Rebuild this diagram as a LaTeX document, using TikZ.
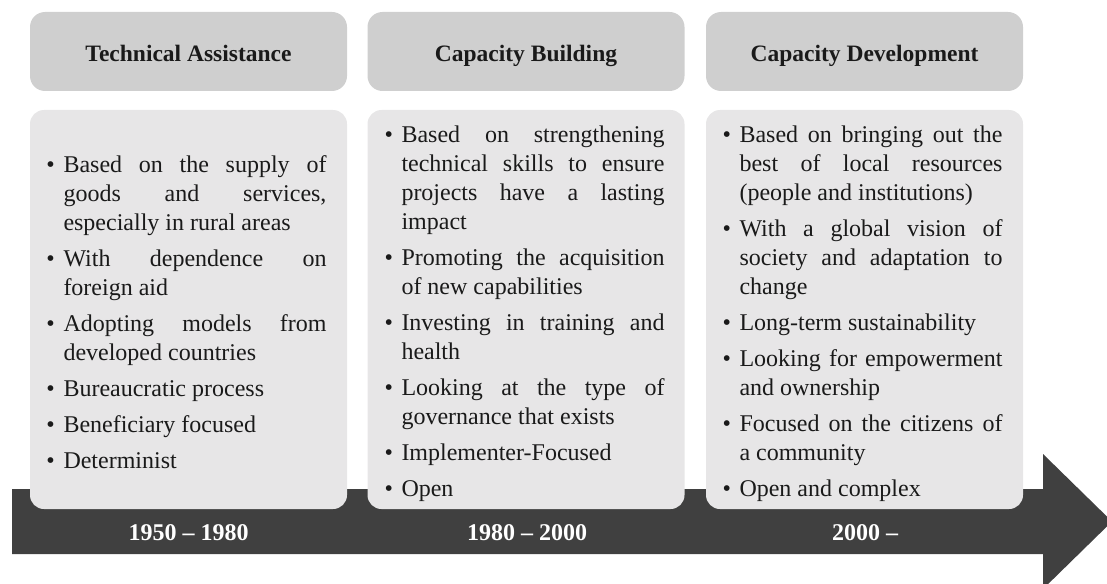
\documentclass[tikz,border=0pt]{standalone}
\usepackage{fontspec}
\setmainfont{Liberation Serif}
\definecolor{hdr}{HTML}{CFCFCF}
\definecolor{bdy}{HTML}{E7E6E7}
\definecolor{bandc}{HTML}{404040}
\definecolor{ink}{HTML}{1A1A1A}
\newenvironment{blist}{\begin{list}{\llap{\textbullet\hspace{8.6pt}}}{\setlength{\leftmargin}{13pt}\setlength{\labelwidth}{0pt}\setlength{\labelsep}{0pt}\setlength{\itemsep}{7pt}\setlength{\parsep}{0pt}\setlength{\topsep}{0pt}\setlength{\partopsep}{0pt}\setlength{\itemindent}{0pt}}}{\end{list}}
\hbadness=10000
\hyphenpenalty=10000
\exhyphenpenalty=10000
\begin{document}
\begin{tikzpicture}[x=1pt,y=-1pt,
 hdrbox/.style={rectangle, rounded corners=15pt, fill=hdr, minimum width=317pt, minimum height=79pt, inner sep=0pt},
 hdrtext/.style={anchor=base, inner sep=0pt, font=\bfseries\fontsize{23.5}{28}\selectfont, text=ink},
 bodybox/.style={rectangle, rounded corners=14pt, fill=bdy, minimum width=317pt, minimum height=399pt, inner sep=0pt},
 listtext/.style={text width=276pt, align=justify, inner sep=0pt, font=\fontsize{24}{29}\selectfont, text=ink},
 yeartext/.style={font=\bfseries\fontsize{24}{28}\selectfont, text=white, inner sep=0pt}]
\useasboundingbox (0,0) rectangle (1107,583);
\clip (0,0) rectangle (1107,583);
\fill[bandc] (12,489) -- (1043,489) -- (1043,454) -- (1112,521.5) -- (1043,589) -- (1043,554) -- (12,554) -- cycle;

\node[hdrbox] (h1) at (188.5,51.5) {};
\node[hdrbox] (h2) at (526,51.5) {};
\node[hdrbox] (h3) at (864.5,51.5) {};
\node[hdrtext] (l1) at (188.5,62) {Technical Assistance};
\node[hdrtext] (l2) at (526,62) {Capacity Building};
\node[hdrtext] (l3) at (864.5,62) {Capacity Development};

\node[bodybox] (b1) at (188.5,309.5) {};
\node[bodybox] (b2) at (526,309.5) {};
\node[bodybox] (b3) at (864.5,309.5) {};

\node[listtext] (t1) at (188.5,306) {\begin{blist}
\item Based on the supply of\linebreak goods and services,\linebreak especially in rural areas
\item With dependence on\linebreak foreign aid
\item Adopting models from\linebreak developed countries
\item Bureaucratic process
\item Beneficiary focused
\item Determinist
\end{blist}};

\node[listtext] (t2) at (526.5,307.5) {\begin{blist}
\item Based on strengthening\linebreak technical skills to ensure\linebreak projects have a lasting\linebreak impact
\item Promoting the acquisition\linebreak of new capabilities
\item Investing in training and\linebreak health
\item Looking at the type of\linebreak governance that exists
\item Implementer-Focused
\item Open
\end{blist}};

\node[listtext] (t3) at (864.5,307.5) {\begin{blist}
\item Based on bringing out the\linebreak best of local resources\linebreak (people and institutions)
\item With a global vision of\linebreak society and adaptation to\linebreak change
\item Long-term sustainability
\item Looking for empowerment\linebreak and ownership
\item Focused on the citizens of\linebreak a community
\item Open and complex
\end{blist}};

\node[yeartext] (y1) at (188.5,533) {1950 – 1980};
\node[yeartext] (y2) at (527,533) {1980 – 2000};
\node[yeartext] (y3) at (865,533) {2000 –};
\end{tikzpicture}
\end{document}
